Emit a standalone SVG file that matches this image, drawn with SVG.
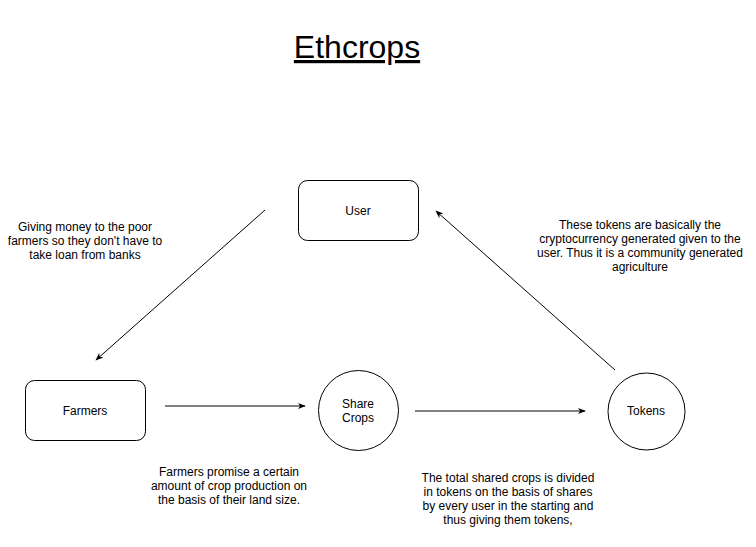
<svg xmlns="http://www.w3.org/2000/svg" width="756" height="547" viewBox="0 0 756 547">
<style>
text{font-family:"Liberation Sans",Arial,sans-serif;font-size:12px;fill:#000;text-anchor:middle}
.shape{fill:#fff;stroke:#000;stroke-width:1}
.edge{stroke:#000;stroke-width:1;fill:none;marker-end:url(#arr)}
.title{font-size:32px;text-decoration:underline}
</style>
<defs>
<marker id="arr" viewBox="0 0 10 10" refX="9" refY="5" markerWidth="8" markerHeight="8" markerUnits="userSpaceOnUse" orient="auto">
<path d="M0,1 L10,5 L0,9 L3,5 Z" fill="#000"/>
</marker>
</defs>
<rect width="756" height="547" fill="#fff"/>
<g id="title"><text class="title" x="357" y="58">Ethcrops</text></g>
<g id="connectors">
<line class="edge" x1="265" y1="210" x2="96" y2="360"/>
<line class="edge" x1="165" y1="406" x2="305" y2="406"/>
<line class="edge" x1="415" y1="411" x2="585" y2="411"/>
<line class="edge" x1="615" y1="370" x2="436" y2="211"/>
</g>
<g id="user"><rect class="shape" x="298.5" y="180.5" width="120" height="60" rx="9"/><text x="358" y="215">User</text></g>
<g id="farmers"><rect class="shape" x="25.5" y="380.5" width="120" height="60" rx="9"/><text x="85" y="415">Farmers</text></g>
<g id="sharecrops"><circle class="shape" cx="358.5" cy="410.5" r="40"/><text x="358" y="408">Share</text><text x="358" y="422">Crops</text></g>
<g id="tokens"><circle class="shape" cx="646.5" cy="411.5" r="38.5"/><text x="646" y="415">Tokens</text></g>
<g id="label-money"><text x="85" y="231">Giving money to the poor</text><text x="85" y="245">farmers so they don't have to</text><text x="85" y="259">take loan from banks</text></g>
<g id="label-tokens"><text x="640" y="229">These tokens are basically the</text><text x="640" y="243">cryptocurrency generated given to the</text><text x="640" y="257">user. Thus it is a community generated</text><text x="640" y="271">agriculture</text></g>
<g id="label-farmers"><text x="229" y="476">Farmers promise a certain</text><text x="229" y="490">amount of crop production on</text><text x="229" y="504">the basis of their land size.</text></g>
<g id="label-shared"><text x="508" y="482">The total shared crops is divided</text><text x="508" y="496">in tokens on the basis of shares</text><text x="508" y="510">by every user in the starting and</text><text x="508" y="524">thus giving them tokens,</text></g>
</svg>
